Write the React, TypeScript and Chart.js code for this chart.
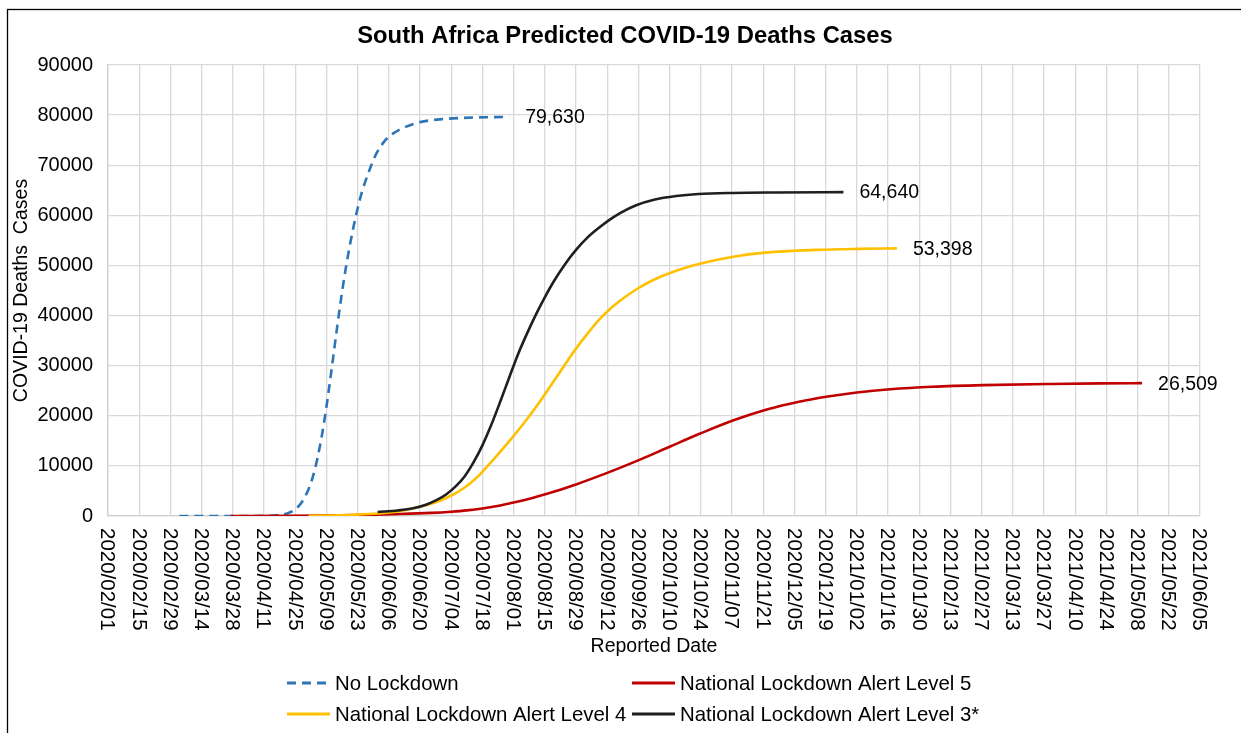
import React, { useEffect, useRef } from 'react';
import { Chart, registerables } from 'chart.js';

Chart.register(...registerables);

// ---------- data (x = days since 2020/02/01) ----------
const xTickLabels = [
  '2020/02/01', '2020/02/15', '2020/02/29', '2020/03/14', '2020/03/28', '2020/04/11',
  '2020/04/25', '2020/05/09', '2020/05/23', '2020/06/06', '2020/06/20', '2020/07/04',
  '2020/07/18', '2020/08/01', '2020/08/15', '2020/08/29', '2020/09/12', '2020/09/26',
  '2020/10/10', '2020/10/24', '2020/11/07', '2020/11/21', '2020/12/05', '2020/12/19',
  '2021/01/02', '2021/01/16', '2021/01/30', '2021/02/13', '2021/02/27', '2021/03/13',
  '2021/03/27', '2021/04/10', '2021/04/24', '2021/05/08', '2021/05/22', '2021/06/05',
];
const yTickLabels = ['0', '10000', '20000', '30000', '40000', '50000', '60000', '70000', '80000', '90000'];

const noLockdownDays = [32, 45, 60, 70, 76, 80, 84, 87, 90, 92, 94, 96, 98, 100, 102, 104, 106, 108, 110, 112, 114, 117, 120, 124, 128, 133, 140, 150, 160, 170, 180];
const noLockdownValues = [0, 0, 0, 30, 150, 450, 1300, 2800, 5350, 7950, 11550, 16150, 21750, 28150, 34950, 41550, 47550, 52750, 57350, 61350, 64750, 68650, 71950, 74750, 76350, 77550, 78600, 79200, 79450, 79580, 79630];

const level5Days = [55, 80, 100, 120, 131, 145, 154, 161, 168, 176, 183, 190, 197, 210, 224, 239, 252, 266, 281, 296, 310, 323, 336, 351, 370, 393, 423, 445, 464];
const level5Values = [0, 30, 110, 270, 390, 620, 860, 1120, 1500, 2100, 2780, 3550, 4420, 6300, 8600, 11300, 13820, 16500, 19150, 21300, 22800, 23850, 24650, 25300, 25800, 26120, 26350, 26460, 26509];

const level4Days = [90, 100, 110, 121, 130, 137, 143, 148, 152, 157, 162, 166, 170, 175, 180, 185, 190, 195, 200, 205, 210, 215, 220, 225, 230, 237, 244, 251, 258, 266, 280, 295, 318, 336, 354];
const level4Values = [0, 100, 250, 500, 900, 1540, 2200, 2900, 3650, 4800, 6350, 7900, 9800, 12300, 14900, 17600, 20500, 23600, 26900, 30200, 33400, 36300, 39000, 41200, 43050, 45200, 46950, 48300, 49400, 50400, 51700, 52550, 53100, 53300, 53398];

const level3Days = [121, 130, 137, 143, 148, 152, 156, 160, 164, 168, 172, 176, 180, 184, 188, 192, 196, 200, 205, 210, 215, 220, 225, 230, 237, 245, 255, 265, 280, 300, 330];
const level3Values = [800, 1100, 1540, 2300, 3300, 4400, 5900, 7900, 10700, 14100, 18200, 22800, 27600, 32300, 36400, 40200, 43650, 46800, 50200, 53100, 55500, 57400, 59100, 60500, 62000, 63100, 63850, 64250, 64470, 64570, 64640];

const seriesNames = ['No Lockdown', 'National Lockdown Alert Level 5', 'National Lockdown Alert Level 4', 'National Lockdown Alert Level 3*'];

const FONT = '"Liberation Sans", Arial, Helvetica, sans-serif';

const toPoints = (days: number[], vals: number[]) => days.map((d, i) => ({ x: d, y: vals[i] }));

const customDraw = {
  id: 'customDraw',
  beforeDraw(chart: any) {
    const ctx = chart.ctx;
    ctx.save();
    ctx.fillStyle = '#ffffff';
    ctx.fillRect(0, 0, chart.width, chart.height);
    ctx.restore();
  },
  afterDraw(chart: any) {
    const ctx = chart.ctx;
    const xs = chart.scales.x;
    const area = chart.chartArea;
    ctx.save();

    // outer frame
    ctx.strokeStyle = '#000000';
    ctx.lineWidth = 1.3;
    ctx.strokeRect(7.5, 9.5, 1400, 900);

    // title
    ctx.fillStyle = '#000000';
    ctx.font = `bold 23.8px ${FONT}`;
    ctx.textAlign = 'center';
    ctx.textBaseline = 'middle';
    ctx.fillText('South Africa Predicted COVID-19 Deaths Cases', 625, 36);

    // x tick labels, rotated clockwise (reading top to bottom)
    ctx.font = `20.5px ${FONT}`;
    xs.ticks.forEach((t: any, i: number) => {
      const px = xs.getPixelForValue(t.value);
      const label = xTickLabels[i] ?? String(t.label);
      ctx.save();
      ctx.translate(px, area.bottom + 12);
      ctx.rotate(Math.PI / 2);
      ctx.textAlign = 'left';
      ctx.textBaseline = 'middle';
      ctx.fillText(label, 0, 1);
      ctx.restore();
    });

    // end-of-series data labels
    ctx.font = `19.5px ${FONT}`;
    ctx.textAlign = 'left';
    ctx.textBaseline = 'middle';
    chart.data.datasets.forEach((ds: any, i: number) => {
      const meta = chart.getDatasetMeta(i);
      const last = meta.data[meta.data.length - 1];
      const v = ds.data[ds.data.length - 1].y;
      ctx.fillText(v.toLocaleString('en-US'), last.x + 16, last.y + 1);
    });

    // legend (2 x 2 grid)
    const cols = [287, 632];
    const rows = [683, 714];
    chart.data.datasets.forEach((ds: any, i: number) => {
      const x = cols[i % 2];
      const y = rows[Math.floor(i / 2)];
      ctx.save();
      ctx.strokeStyle = ds.borderColor;
      ctx.lineWidth = 3;
      ctx.setLineDash(ds.borderDash || []);
      ctx.beginPath();
      ctx.moveTo(x, y);
      ctx.lineTo(x + 43, y);
      ctx.stroke();
      ctx.restore();
      ctx.fillStyle = '#000000';
      ctx.font = `20.4px ${FONT}`;
      ctx.textAlign = 'left';
      ctx.textBaseline = 'middle';
      ctx.fillText(ds.label, x + 48, y + 1);
    });

    ctx.restore();
  },
};

export default function App() {
  const canvasRef = useRef<HTMLCanvasElement | null>(null);

  useEffect(() => {
    if (!canvasRef.current) return;
    const common = { pointRadius: 0, borderWidth: 2.6, fill: false, cubicInterpolationMode: 'monotone' as const };
    const chart = new Chart(canvasRef.current, {
      type: 'line',
      data: {
        datasets: [
          { ...common, label: seriesNames[0], data: toPoints(noLockdownDays, noLockdownValues), borderColor: '#2E75B6', borderDash: [9, 6], order: 4 },
          { ...common, label: seriesNames[1], data: toPoints(level5Days, level5Values), borderColor: '#C00000', order: 3 },
          { ...common, label: seriesNames[2], data: toPoints(level4Days, level4Values), borderColor: '#FFC000', order: 2 },
          { ...common, label: seriesNames[3], data: toPoints(level3Days, level3Values), borderColor: '#1F1F1F', order: 1 },
        ],
      },
      options: {
        animation: false,
        responsive: false,
        maintainAspectRatio: false,
        layout: { padding: { left: 0, right: 41, top: 65, bottom: 0 } },
        plugins: {
          legend: { display: false },
          title: { display: false },
          tooltip: { enabled: false },
        },
        elements: { point: { radius: 0 } },
        scales: {
          x: {
            type: 'linear',
            min: 0,
            max: 490,
            ticks: {
              stepSize: 14,
              maxTicksLimit: 100,
              display: false,
              callback: (_v: any, i: number) => xTickLabels[i],
            },
            grid: { color: '#D9D9D9', lineWidth: 1.3, drawTicks: false },
            border: { color: '#D0D0D0', width: 1.3 },
            title: {
              display: true,
              text: 'Reported Date',
              color: '#000000',
              font: { family: FONT, size: 19.5 },
              padding: { top: 0, bottom: 75 },
            },
            afterFit: (s: any) => { s.height = 217; },
          },
          y: {
            type: 'linear',
            min: 0,
            max: 90000,
            ticks: {
              stepSize: 10000,
              padding: 15,
              color: '#000000',
              font: { family: FONT, size: 20 },
              callback: (_v: any, i: number) => yTickLabels[i],
            },
            grid: { color: '#D9D9D9', lineWidth: 1.3, drawTicks: false },
            border: { color: '#D0D0D0', width: 1.3 },
            title: {
              display: true,
              text: 'COVID-19 Deaths  Cases',
              color: '#000000',
              font: { family: FONT, size: 19.5 },
              padding: { top: 10, bottom: 0 },
            },
            afterFit: (s: any) => { s.width = 108; },
          },
        },
      },
      plugins: [customDraw],
    });
    return () => chart.destroy();
  }, []);

  return (
    <div style={{ position: 'absolute', left: 0, top: 0, width: 1241, height: 733 }}>
      <canvas ref={canvasRef} width={1241} height={733} style={{ display: 'block', width: 1241, height: 733 }} />
    </div>
  );
}
